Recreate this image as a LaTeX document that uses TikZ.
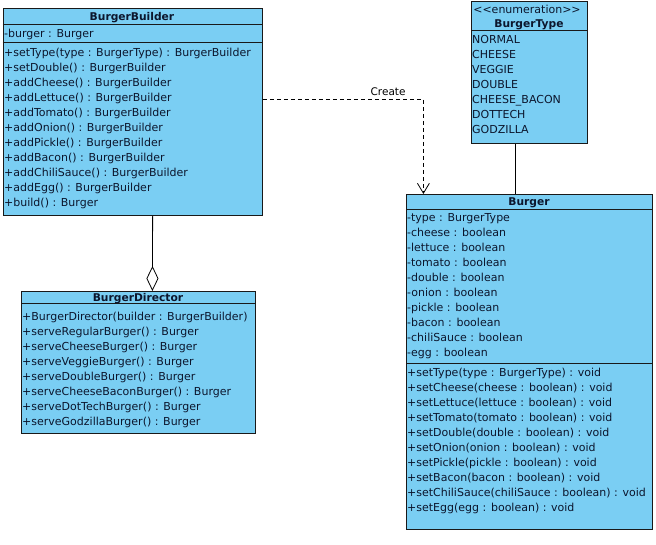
\documentclass[tikz,border=0pt]{standalone}
\usepackage{fontspec}
\setmainfont{DejaVu Sans}
\usetikzlibrary{arrows.meta}
\definecolor{boxc}{RGB}{122,206,243}
\definecolor{txtc}{RGB}{12,22,45}
\tikzset{
  classbox/.style={draw=black!90, fill=boxc, line width=0.8pt, inner sep=0pt, anchor=north west},
  rows/.style={align=left, inner sep=0pt, anchor=north west, text=txtc, font=\fontsize{11}{15}\selectfont},
  title/.style={inner sep=0pt, text=txtc, font=\fontsize{10.7}{15}\selectfont\bfseries},
  sep/.style={line width=0.8pt, black!90}
}
\begin{document}
\begin{tikzpicture}[x=1pt,y=-1pt]
		\useasboundingbox (0,0) rectangle (656,545);
		% BurgerBuilder
		\node[classbox, minimum width=259.5pt, minimum height=207pt](BB) at (2.5,8) {};
		\draw[sep] (2.5,24) -- (262,24);
		\draw[sep] (2.5,42) -- (262,42);
		\node[title](BBt) at (132,17.5) {BurgerBuilder};
		\node[rows](BBa) at (4,28.5) {-burger : Burger};
		\node[rows](BBm) at (4,47.5) {+setType(type : BurgerType) : BurgerBuilder\\
			+setDouble() : BurgerBuilder\\ +addCheese() : BurgerBuilder\\
			+addLettuce() : BurgerBuilder\\ +addTomato() : BurgerBuilder\\
			+addOnion() : BurgerBuilder\\ +addPickle() : BurgerBuilder\\
			+addBacon() : BurgerBuilder\\ +addChiliSauce() : BurgerBuilder\\
			+addEgg() : BurgerBuilder\\ +build() : Burger};
		% BurgerDirector
		\node[classbox, minimum width=234pt, minimum height=142pt](BD) at (21,291) {};
		\draw[sep] (21,303) -- (255,303);
		\node[title](BDt) at (138,298.2) {BurgerDirector};
		\node[rows](BDm) at (22,311.5) {+BurgerDirector(builder : BurgerBuilder)\\
			+serveRegularBurger() : Burger\\ +serveCheeseBurger() : Burger\\
			+serveVeggieBurger() : Burger\\ +serveDoubleBurger() : Burger\\
			+serveCheeseBaconBurger() : Burger\\ +serveDotTechBurger() : Burger\\
			+serveGodzillaBurger() : Burger};
		% BurgerType
		\node[classbox, minimum width=116pt, minimum height=142pt](BT) at (471,1) {};
		\draw[sep] (471,30) -- (587,30);
		\node[rows, anchor=center](BTs) at (527,9) {<{}<enumeration>{}>};
		\node[title](BTt) at (529,24.5) {BurgerType};
		\node[rows](BTv) at (472,35.5) {NORMAL\\ CHEESE\\ VEGGIE\\ DOUBLE\\
			CHEESE\_BACON\\ DOTTECH\\ GODZILLA};
		% Burger
		\node[classbox, minimum width=246pt, minimum height=335pt](BG) at (406,194) {};
		\draw[sep] (406,209) -- (652,209);
		\draw[sep] (406,363) -- (652,363);
		\node[title](BGt) at (529,203) {Burger};
		\node[rows](BGa) at (407,213.5) {-type : BurgerType\\ -cheese : boolean\\
			-lettuce : boolean\\ -tomato : boolean\\ -double : boolean\\
			-onion : boolean\\ -pickle : boolean\\ -bacon : boolean\\
			-chiliSauce : boolean\\ -egg : boolean};
		\node[rows](BGm) at (407,367.5) {+setType(type : BurgerType) : void\\
			+setCheese(cheese : boolean) : void\\ +setLettuce(lettuce : boolean) : void\\
			+setTomato(tomato : boolean) : void\\ +setDouble(double : boolean) : void\\
			+setOnion(onion : boolean) : void\\ +setPickle(pickle : boolean) : void\\
			+setBacon(bacon : boolean) : void\\ +setChiliSauce(chiliSauce : boolean) : void\\
			+setEgg(egg : boolean) : void};
		% connectors
		\draw[line width=0.8pt, -{Diamond[open, length=25pt, width=12pt, line width=0.8pt]}] ([xshift=20pt]BB.south) -- ([xshift=14pt]BD.north);
		\draw[line width=0.8pt, dashed, dash pattern=on 4pt off 3pt, -{Straight Barb[length=10pt, width=12pt, line width=0.8pt]}]
			([yshift=12.5pt]BB.east) -| node[pos=0.39, above, text=black, font=\fontsize{10.5}{15}\selectfont](C){Create} ([xshift=-106pt]BG.north);
		\draw[line width=0.8pt] ([xshift=-14pt]BT.south) -- ([xshift=-14pt]BG.north);
\end{tikzpicture}
\end{document}
